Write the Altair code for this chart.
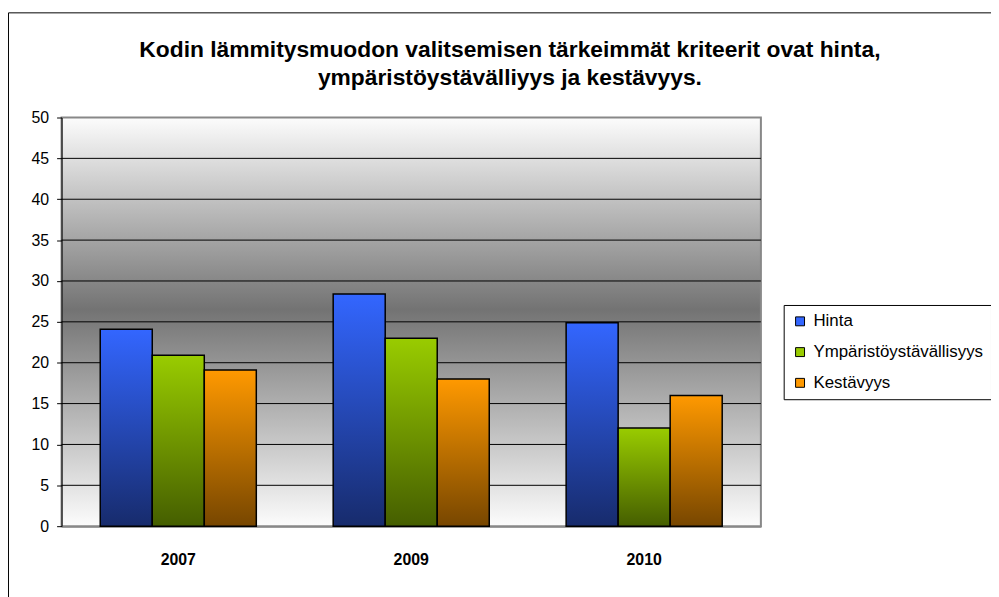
import altair as alt
import pandas as pd

years = ["2007", "2009", "2010"]
series = ["Hinta", "Ympäristöystävällisyys", "Kestävyys"]
hinta = [24.1, 28.4, 24.9]
ymparisto = [20.9, 23.0, 12.0]
kestavyys = [19.1, 18.0, 16.0]
y_ticks = [0, 5, 10, 15, 20, 25, 30, 35, 40, 45, 50]
grid_values = [5, 10, 15, 20, 25, 30, 35, 40, 45]
title_lines = ["Kodin lämmitysmuodon valitsemisen tärkeimmät kriteerit ovat hinta,",
               "ympäristöystävälliyys ja kestävyys."]

flat_colors = ["#3366FF", "#99CC00", "#FF9900"]
grad_colors = [("#3366FF", "#172B6C"), ("#99CC00", "#455E00"), ("#FF9900", "#774600")]

rows = []
for s, vals in zip(series, [hinta, ymparisto, kestavyys]):
    for yr, v in zip(years, vals):
        rows.append({"Vuosi": yr, "Sarja": s, "Arvo": v})
df = pd.DataFrame(rows)

W, H = 705, 412
FONT = "Liberation Sans"

x_enc = alt.X("Vuosi:N", sort=years,
              scale=alt.Scale(paddingInner=0.33, paddingOuter=0.166),
              axis=alt.Axis(title=None, labelFontSize=16, labelFontWeight="bold",
                            labelFont=FONT, labelColor="black", labelAngle=0,
                            ticks=False, labelPadding=26, domainColor="#888888",
                            domainWidth=2))
xo_enc = alt.XOffset("Sarja:N", sort=series, scale=alt.Scale(domain=series, paddingInner=0, paddingOuter=0))
y_scale = alt.Scale(domain=[0, 50], nice=False, zero=True)
y_enc = alt.Y("Arvo:Q", scale=y_scale,
              axis=alt.Axis(title=None, values=y_ticks, labelFontSize=16, labelFont=FONT,
                            labelColor="black", tickColor="black", tickSize=5,
                            domainColor="black", domainWidth=1, grid=False,
                            labelPadding=8, zindex=1))

one = pd.DataFrame({"a": [0]})

bg = alt.Chart(one).mark_rect(
    fill=alt.LinearGradient(gradient="linear", x1=0, x2=0, y1=0, y2=1, stops=[
        alt.GradientStop(offset=0, color="#FCFCFC"),
        alt.GradientStop(offset=0.47, color="#737373"),
        alt.GradientStop(offset=1, color="#FCFCFC"),
    ]),
    stroke="#888888", strokeWidth=2,
).encode(x=alt.value(0), x2=alt.value("width"), y=alt.value(0), y2=alt.value("height"))

frame = alt.Chart(one).mark_rect(
    fill=None, stroke="black", strokeWidth=1, fillOpacity=0
).encode(x=alt.value(-53.5), x2=alt.value(W + 400), y=alt.value(-105.5), y2=alt.value(H + 200))

title_layers = []
for line, yy in zip(title_lines, [-68, -40]):
    title_layers.append(
        alt.Chart(one).mark_text(font=FONT, fontSize=23, fontWeight="bold", color="black",
                                 align="center", baseline="middle").encode(
            x=alt.value(452), y=alt.value(yy), text=alt.value(line))
    )

grid = alt.Chart(pd.DataFrame({"g": grid_values})).mark_rule(color="black", strokeWidth=1).encode(
    y=alt.Y("g:Q", scale=y_scale), x=alt.value(0), x2=alt.value("width"))

bar_layers = []
for s, (top, bot) in zip(series, grad_colors):
    bar_layers.append(
        alt.Chart(df).transform_filter(alt.datum.Sarja == s).mark_bar(
            fill=alt.LinearGradient(gradient="linear", x1=0, x2=0, y1=0, y2=1, stops=[
                alt.GradientStop(offset=0, color=top),
                alt.GradientStop(offset=1, color=bot),
            ]),
            stroke="black", strokeWidth=1.5,
        ).encode(x=x_enc, xOffset=xo_enc, y=y_enc)
    )

legend_layer = alt.Chart(df).mark_bar(opacity=0).encode(
    x=x_enc, xOffset=xo_enc,
    y=alt.Y("Arvo:Q", scale=y_scale, stack=None),
    color=alt.Color("Sarja:N", sort=series,
                    scale=alt.Scale(domain=series, range=flat_colors),
                    legend=alt.Legend(title=None, orient="none", legendX=728, legendY=189,
                                      symbolType="square", symbolSize=81, symbolOpacity=1,
                                      symbolStrokeColor="black", symbolStrokeWidth=1,
                                      labelFontSize=17, labelFont=FONT, labelColor="black",
                                      labelLimit=400,
                                      rowPadding=13, padding=8, strokeColor="black",
                                      fillColor="white", cornerRadius=0, labelOffset=5)),
)

chart = alt.layer(bg, grid, *bar_layers, legend_layer, frame, *title_layers).properties(
    width=W, height=H,
    padding={"left": 54, "top": 108, "right": 232, "bottom": 69},
    autosize=alt.AutoSizeParams(type="none"),
).configure_view(stroke=None).configure(background="white")

chart.save("out.html", embed_options={"renderer": "svg", "actions": False})
